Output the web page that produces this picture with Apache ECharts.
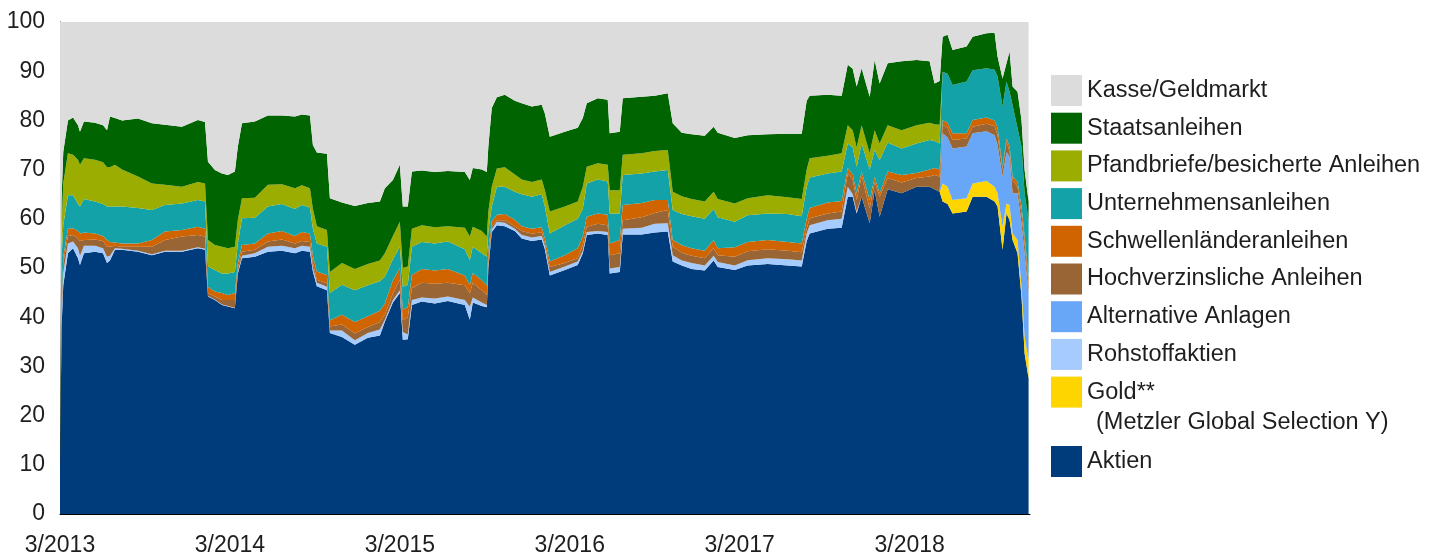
<!DOCTYPE html>
<html>
<head>
<meta charset="utf-8">
<script src="https://cdn.jsdelivr.net/npm/echarts@6/dist/echarts.min.js"></script>
<style>
  html, body { margin: 0; padding: 0; background: #fff; }
  #chart { width: 1448px; height: 557px; }
</style>
</head>
<body>
<div id="chart"></div>
<script>
// x: months since 3/2013
const months = [
  0, 0.11, 0.23, 0.56, 0.92, 1.27, 1.41, 1.69, 2.47, 3.04,
  3.32, 3.53, 3.88, 4.38, 5.51, 6.49, 7.41, 8.61, 9.74, 10.24,
  10.45, 10.94, 11.44, 11.86, 12.35, 12.56, 12.85, 13.76, 14.68, 15.67,
  16.59, 17.08, 17.65, 17.86, 18.14, 18.85, 19.06, 19.91, 20.82, 21.74,
  22.59, 22.94, 23.51, 24.00, 24.21, 24.56, 24.85, 25.55, 26.47, 27.39,
  28.59, 28.94, 29.15, 29.79, 30.14, 30.25, 30.49, 30.85, 31.41, 32.12,
  32.61, 33.32, 34.02, 34.24, 34.59, 35.65, 36.56, 36.92, 37.20, 37.98,
  38.68, 38.82, 39.53, 39.74, 41.08, 42.00, 42.92, 43.27, 43.91, 44.61,
  45.53, 46.16, 46.45, 47.65, 48.56, 49.98, 51.39, 52.38, 52.73, 52.94,
  54.21, 55.20, 55.63, 55.98, 56.26, 56.61, 57.18, 57.53, 57.88, 58.45,
  59.43, 60.49, 61.41, 61.76, 62.12, 62.33, 62.68, 63.03, 64.02, 64.45,
  65.43, 66.00, 66.21, 66.56, 66.84, 67.06, 67.27, 67.62, 67.90, 68.12, 68.40
];

const aktien = [
  9, 38, 46.5, 53, 54, 52, 50.6, 53, 53.3, 53,
  51, 51.5, 53.7, 53.7, 53.3, 52.6, 53.3, 53.3, 54, 53.7,
  44.2, 43.5, 42.5, 42.2, 41.8, 48.9, 52, 52.3, 53.3, 53.5,
  53, 53.5, 53.3, 49.3, 46.3, 45.5, 36.8, 36, 34.4, 35.8,
  36.3, 39.1, 43, 44.9, 35.4, 35.5, 42.5, 43.2, 42.8, 43.3,
  42.5, 39.5, 43, 42.3, 42, 50, 57.3, 58.7, 58.5, 57.5,
  56, 55.5, 55.8, 53.8, 48.5, 49.6, 50.6, 53, 56.7, 57,
  56.7, 48.9, 49.2, 56.8, 56.8, 57.2, 57.4, 51.3, 50.5, 49.8,
  49.5, 51.5, 50.2, 49.6, 50.5, 50.8, 50.5, 50.3, 55.5, 57,
  58, 58.2, 64.5, 64.5, 61.1, 64.5, 59.1, 65.8, 60.4, 66,
  65.2, 66.5, 66.5, 66, 65.5, 63.5, 63, 61.1, 61.5, 64.5,
  64.5, 63.5, 62.5, 53.7, 61.1, 59.7, 55.7, 53, 44.2, 32.6, 27.6
];

const gold = [
  0, 0, 0, 0, 0, 0, 0, 0, 0, 0,
  0, 0, 0, 0, 0, 0, 0, 0, 0, 0,
  0, 0, 0, 0, 0, 0, 0, 0, 0, 0,
  0, 0, 0, 0, 0, 0, 0, 0, 0, 0,
  0, 0, 0, 0, 0, 0, 0, 0, 0, 0,
  0, 0, 0, 0, 0, 0, 0, 0, 0, 0,
  0, 0, 0, 0, 0, 0, 0, 0, 0, 0,
  0, 0, 0, 0, 0, 0, 0, 0, 0, 0,
  0, 0, 0, 0, 0, 0, 0, 0, 0, 0,
  0, 0, 0, 0, 0, 0, 0, 0, 0, 0,
  0, 0, 0, 0, 0, 3.7, 3.5, 2.7, 2.7, 2.7,
  3.2, 3, 2.7, 4.7, 2, 3.1, 1.3, 2.7, 2, 3.4, 3.9
];

const rohstoffaktien = [
  0.5, 2, 2.5, 2, 1.4, 2, 1.9, 1.5, 1.2, 1,
  1.3, 1, 0.3, 0.2, 0.2, 0.2, 0.2, 0.2, 0.2, 0.2,
  0.1, 0.1, 0.1, 0.1, 0.1, 0.3, 0.5, 0.7, 1, 1,
  1, 1, 1, 0.7, 0.7, 0.7, 0.5, 1.3, 0.9, 1,
  1.2, 0.4, 0.5, 0.6, 1.6, 1, 1, 0.8, 1, 0.9,
  1, 2.6, 1, 0.7, 0.5, 0.5, 0.5, 0.7, 0.7, 0.5,
  0.7, 0.7, 0.7, 0.7, 0.7, 0.7, 0.7, 0.5, 0.6, 0.5,
  0.6, 1, 1, 1.2, 1.4, 1.8, 1.7, 1.3, 1, 1.2,
  1, 1, 1, 0.9, 1.1, 1.2, 1.3, 1.2, 1.5, 1.7,
  1.7, 1.8, 2, 0.5, 0.4, 0, 0, 0, 0, 0,
  0, 0, 0, 0, 0, 0, 0, 0, 0, 0,
  0, 0, 0, 0, 0, 0, 0, 0, 0, 0, 0
];

const alternativeAnlagen = [
  0, 0, 0, 0, 0, 0, 0, 0, 0, 0,
  0, 0, 0, 0, 0, 0, 0, 0, 0, 0,
  0, 0, 0, 0, 0, 0, 0, 0, 0, 0,
  0, 0, 0, 0, 0, 0, 0, 0, 0, 0,
  0, 0, 0, 0, 0, 0, 0, 0, 0, 0,
  0, 0, 0, 0, 0, 0, 0, 0, 0, 0,
  0, 0, 0, 0, 0, 0, 0, 0, 0, 0,
  0, 0, 0, 0, 0, 0, 0, 0, 0, 0,
  0, 0, 0, 0, 0, 0, 0, 0, 0, 0,
  0, 0, 0, 0, 0, 0, 0, 0, 0, 0,
  0, 0, 0, 0, 0, 10.2, 10, 10.5, 10.5, 10.2,
  10.1, 10.5, 9.8, 10.2, 10.5, 9.8, 8.2, 9.5, 12.9, 17, 13.5
];

const hochverzinslich = [
  0.5, 1, 2, 1.5, 1.3, 2, 3, 1.2, 1.3, 1.5,
  2, 1.8, 0.5, 0.4, 0.8, 1.5, 2.2, 2.9, 2.5, 2.5,
  0.6, 0.6, 0.9, 1.2, 1.6, 0.8, 0.8, 0.7, 1.1, 1.3,
  1, 1, 1, 1, 0.6, 0.7, 0.8, 1.2, 1.4, 1.2,
  1.5, 1, 1.3, 2.1, 2.4, 3.5, 2.4, 3, 3, 2.8,
  3, 2.7, 3, 2.5, 2, 1, 0.7, 0.3, 0.5, 0.5,
  0.8, 0.8, 0.7, 0.5, 1, 0.7, 0.7, 1.2, 1.1, 1.5,
  1.4, 2.7, 2.8, 1.7, 2.1, 2.2, 2.7, 1.7, 1.6, 1.5,
  1.5, 1.5, 1.4, 1.8, 1.8, 1.8, 1.7, 1.7, 1, 1.4,
  1.4, 1.5, 2.7, 3, 2.3, 4.1, 3, 1.7, 4.1, 2.3,
  2.2, 1.8, 2.1, 2.9, 3.1, 1.7, 2, 1.7, 1.6, 1.3,
  1.5, 1.8, 2, 1.4, 2.1, 1, 2.7, 1.3, 1.9, 2, 1.5
];

const schwellenlaender = [
  0.5, 1, 1.3, 1.5, 1.4, 1.5, 1.5, 1.5, 1.2, 1,
  1.4, 1, 0.7, 0.7, 0.7, 1.4, 1.7, 1.3, 1.7, 1.6,
  1.3, 1, 1.4, 1, 1.4, 1, 1.4, 1.3, 1.6, 1.7,
  1.5, 1.8, 1.7, 1.5, 1.7, 1.7, 1.3, 2, 2.3, 2.2,
  2.3, 2.3, 2.7, 2.4, 2.1, 2, 2.7, 2.8, 2.7, 2.8,
  2, 1.7, 2, 2, 2, 2.2, 1, 1.1, 1.3, 1.3,
  1, 1, 1.1, 1, 1.1, 1.6, 2, 1.8, 2, 2.1,
  2.1, 2.4, 2.7, 3.1, 2.9, 2.6, 2, 1.4, 1.5, 1.5,
  1.5, 1.7, 1.4, 1.9, 1.9, 1.9, 1.8, 1.8, 2, 2.1,
  2.2, 2.1, 1.1, 1, 1.4, 1, 1.7, 1, 0.7, 1.3,
  1.5, 1, 1.4, 1.4, 1.4, 1, 1, 1.4, 1.1, 1.4,
  1.3, 1.2, 1.5, 0.6, 0.6, 1.1, 0.7, 1, 1.5, 1.5, 1.5
];

const unternehmensanleihen = [
  1, 10, 6.4, 6.8, 6.7, 5.5, 5.5, 6.8, 6.5, 6.5,
  6.8, 7.2, 7.3, 7.5, 7.2, 6.1, 5.4, 5.4, 5.4, 5.5,
  4.1, 4.4, 4, 4.4, 4.3, 4, 5.4, 5.2, 5.5, 5.5,
  5.5, 5.5, 5.3, 5.5, 5.7, 5.7, 5.5, 6.1, 6.5, 6.3,
  6, 5.4, 4.3, 4.3, 4.7, 4.6, 5.7, 5.5, 5.5, 5.6,
  5.3, 5.1, 5.3, 5.5, 5.8, 3.8, 3, 5.7, 5.5, 5.7,
  6.5, 6.5, 6.7, 6.5, 5.7, 6.1, 6, 5.5, 6.8, 6.9,
  6.8, 6.1, 5.4, 6.1, 6, 5.8, 6.1, 6.1, 6.4, 6.5,
  6.5, 6.3, 6.3, 5.2, 5.4, 5.4, 5.7, 5.5, 6.5, 6.2,
  5.9, 6, 5, 5.5, 5.4, 5.7, 6.2, 5.5, 6.7, 5.9,
  5.4, 6, 6, 5.5, 5.3, 9.8, 10, 9.8, 10.5, 10.1,
  10, 10.3, 10.4, 12.2, 11.6, 11.1, 14.5, 10.9, 12.2, 8.7, 11.7
];

const pfandbriefe = [
  1, 6, 8.5, 8.5, 8.2, 9, 8.5, 8.3, 8.5, 8.5,
  8, 8, 8.5, 7.5, 6.4, 5.4, 4.1, 3.4, 3.7, 3.7,
  5.4, 5.1, 5.4, 5.1, 5.1, 4.8, 4.1, 4.1, 4.4, 4,
  4.2, 4, 3.9, 4, 3.5, 3.4, 4.3, 4.4, 4.3, 4.3,
  4.2, 4.8, 4.7, 5.1, 3.8, 3.7, 3.7, 3.4, 3.3, 3.1,
  4.4, 4.8, 4.1, 4.5, 4.1, 4, 4, 3.7, 4, 3.5,
  3, 3, 3, 3.3, 4.5, 3.8, 3.5, 4.5, 3.4, 3.3,
  3.4, 4.7, 4.7, 4.1, 4.1, 4.2, 4.1, 3.7, 3.6, 3.5,
  3.5, 3.5, 3.7, 3.7, 3.5, 3.7, 3.4, 3.5, 3.5, 3.9,
  3.6, 3.7, 3.7, 3.5, 3.9, 3.7, 3.3, 4, 3.4, 3.5,
  3.7, 3.7, 3.5, 3.4, 3.8, 0, 0, 0, 0, 0,
  0, 0, 0, 0, 0, 0, 0, 0, 0, 0, 0
];

const staatsanleihen = [
  1.5, 6, 6.4, 6.7, 7.6, 7, 6.7, 7.5, 7.5, 7.5,
  7.5, 10.3, 9.5, 10, 11.8, 12.2, 12.2, 12.2, 12.6, 12.5,
  15.9, 15.2, 14.9, 14.9, 15.3, 14.9, 15.2, 15.5, 14.1, 14,
  14.6, 14.4, 14.8, 13, 15, 15.5, 15, 12.3, 12.8, 12.4,
  12, 13.2, 11.4, 11.6, 12.5, 12.2, 11.6, 11.1, 11.2, 11.2,
  11.3, 11.5, 11.9, 12.5, 13.1, 13.2, 16, 14.5, 14.7, 15,
  15.5, 15.3, 15.2, 15.6, 15.2, 15.2, 15, 14, 12.9, 13.2,
  13.2, 11.6, 11.9, 11.5, 11.5, 11.2, 11.5, 13.9, 12.9, 13.2,
  13.4, 13.2, 13.5, 13.3, 12.8, 12.4, 12.9, 13.3, 14, 12.7,
  12.4, 11.7, 12.3, 12.5, 12.4, 11.6, 11.5, 14.3, 12.2, 12.6,
  14, 13.3, 12.5, 8.3, 8.9, 7.1, 7.9, 7.1, 7.1, 6.8,
  7.1, 7.5, 4.1, 5.7, 3.7, 8.2, 3.8, 7.4, 5.4, 4.7, 3.8
];

const kasse = [
  86, 36, 26.4, 20, 19.4, 21, 22.3, 20.2, 20.5, 21,
  22, 19.2, 19.5, 20, 19.6, 20.6, 20.9, 21.3, 19.9, 20.3,
  28.4, 30.1, 30.8, 31.1, 30.4, 25.3, 20.6, 20.2, 19, 19,
  19.2, 18.8, 19, 25, 26.5, 26.8, 35.8, 36.7, 37.4, 36.8,
  36.5, 33.8, 32.1, 29, 37.5, 37.5, 30.4, 30.2, 30.5, 30.3,
  30.5, 32.1, 29.7, 30, 30.5, 25.3, 17.5, 15.3, 14.8, 16,
  16.5, 17.2, 16.8, 18.6, 23.3, 22.3, 21.5, 19.5, 16.5, 15.5,
  15.8, 22.6, 22.3, 15.5, 15.2, 15, 14.5, 20.6, 22.5, 22.8,
  23.1, 21.3, 22.5, 23.6, 23, 22.8, 22.7, 22.7, 16, 15,
  14.8, 15, 8.7, 9.5, 13.1, 9.4, 15.2, 7.7, 12.5, 8.4,
  8, 7.7, 8, 12.5, 12, 3, 2.6, 5.7, 5, 3,
  2.3, 2.2, 7, 11.5, 8.4, 6, 13.1, 14.2, 19.9, 30.1, 36.5
];

const layers = [
  { name: "Aktien", values: aktien, color: "#003c7c" },
  { name: "Gold**", values: gold, color: "#ffd500" },
  { name: "Rohstoffaktien", values: rohstoffaktien, color: "#a6cbff" },
  { name: "Alternative Anlagen", values: alternativeAnlagen, color: "#68a6f7" },
  { name: "Hochverzinsliche Anleihen", values: hochverzinslich, color: "#996535" },
  { name: "Schwellenländeranleihen", values: schwellenlaender, color: "#d06400" },
  { name: "Unternehmensanleihen", values: unternehmensanleihen, color: "#12a2a8" },
  { name: "Pfandbriefe/besicherte Anleihen", values: pfandbriefe, color: "#9aad00" },
  { name: "Staatsanleihen", values: staatsanleihen, color: "#006400" },
  { name: "Kasse/Geldmarkt", values: kasse, color: "#dcdcdc" },
];

const FONT = "Liberation Sans, Arial, sans-serif";
const TEXT = "#1e1e1e";
const X_MAX = 68.5;

// time axis carries the data (so only y is stacked), value axis draws the labels
const T0 = new Date(2013, 2, 1).getTime();
const MONTH_MS = 365.25 / 12 * 864e5;
const toTime = function (m) { return T0 + m * MONTH_MS; };

const chart = echarts.init(document.getElementById("chart"));

const series = layers.map(function (l) {
  return {
    name: l.name,
    type: "line",
    xAxisIndex: 0,
    stack: "total",
    stackStrategy: "all",
    symbol: "none",
    smooth: false,
    lineStyle: { width: 0 },
    itemStyle: { color: l.color },
    areaStyle: { color: l.color, opacity: 1 },
    data: months.map(function (m, i) { return [toTime(m), l.values[i]]; }),
  };
});

const legendBase = {
  orient: "vertical",
  left: 1051,
  padding: 0,
  icon: "rect",
  itemWidth: 31,
  itemHeight: 31,
  itemGap: 6.7,
  selectedMode: false,
  textStyle: { fontFamily: FONT, fontSize: 23.5, color: TEXT },
};

const option = {
  animation: false,
  backgroundColor: "#fff",
  grid: { left: 60, right: 418, top: 22, bottom: 43 },
  xAxis: [
    {
      type: "time",
      show: false,
      min: toTime(0),
      max: toTime(X_MAX),
    },
    {
      type: "value",
      position: "bottom",
      min: 0,
      max: X_MAX,
      interval: 12,
      axisLine: { show: true, onZero: false, lineStyle: { color: "#000", width: 1 } },
      axisTick: { show: false },
      splitLine: { show: false },
      axisLabel: {
        showMaxLabel: false,
        margin: 20,
        fontFamily: FONT,
        fontSize: 23,
        color: TEXT,
        formatter: function (v) {
          return v % 12 === 0 ? "3/" + (2013 + v / 12) : "";
        },
      },
    },
  ],
  yAxis: {
    type: "value",
    min: 0,
    max: 100,
    interval: 10,
    axisLine: { show: true, lineStyle: { color: "#000", width: 1 } },
    axisTick: { show: false },
    splitLine: { show: false },
    axisLabel: { margin: 15, fontFamily: FONT, fontSize: 23, color: TEXT },
  },
  legend: [
    Object.assign({}, legendBase, {
      top: 75,
      data: [
        "Kasse/Geldmarkt",
        "Staatsanleihen",
        "Pfandbriefe/besicherte Anleihen",
        "Unternehmensanleihen",
        "Schwellenländeranleihen",
        "Hochverzinsliche Anleihen",
        "Alternative Anlagen",
        "Rohstoffaktien",
        "Gold**",
      ],
    }),
    Object.assign({}, legendBase, { top: 446, data: ["Aktien"] }),
  ],
  graphic: [
    {
      type: "text",
      left: 1096,
      top: 411,
      style: {
        text: "(Metzler Global Selection Y)",
        font: "23.5px " + FONT,
        fill: TEXT,
      },
    },
  ],
  series: series,
};

chart.setOption(option);
</script>
</body>
</html>
